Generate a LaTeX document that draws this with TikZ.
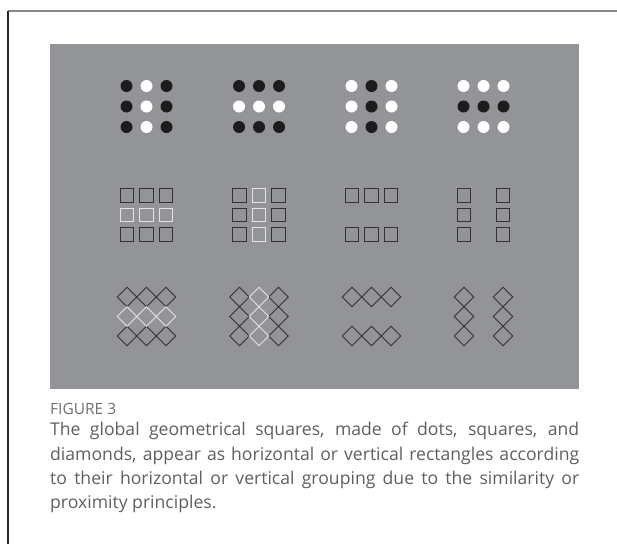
\documentclass[tikz,border=0pt]{standalone}
\usepackage{fontspec}
\setmainfont{Open Sans}

\definecolor{panel}{RGB}{147,148,152}
\definecolor{ink}{RGB}{28,28,28}
\definecolor{edgedark}{RGB}{50,50,52}
\definecolor{edgelight}{RGB}{228,228,228}
\definecolor{captext}{RGB}{95,95,95}
\definecolor{figgray}{RGB}{110,110,110}
\definecolor{framegray}{RGB}{135,135,135}

\begin{document}
\begin{tikzpicture}[x=1pt, y=-1pt,
		sq/.style={line width=1.3pt},
		rh/.style={line width=1pt, line join=miter}]
		\useasboundingbox (0,0) rectangle (617,544);
		% frame and grey panel
		\draw[framegray, line width=1.5pt] (8,11) -- (617,11);
		\draw[black!85, line width=1.2pt] (8,11) -- (8,544);
		\fill[panel] (50,44) rectangle (579,389);

		% dots: 3x3 groups, one column or row set apart by colour
		\foreach \i/\c in {-1/ink,0/white,1/ink}
			\foreach \j in {-1,0,1}
				\fill[\c] (146.5+20*\i, 106.5+20.5*\j) circle (6);
		\foreach \j/\c in {-1/ink,0/white,1/ink}
			\foreach \i in {-1,0,1}
				\fill[\c] (259+20*\i, 106.5+20.5*\j) circle (6);
		\foreach \i/\c in {-1/white,0/ink,1/white}
			\foreach \j in {-1,0,1}
				\fill[\c] (371.5+20*\i, 106.5+20.5*\j) circle (6);
		\foreach \j/\c in {-1/white,0/ink,1/white}
			\foreach \i in {-1,0,1}
				\fill[\c] (483.5+20*\i, 106.5+20.5*\j) circle (6);

		% squares
		\foreach \j/\c in {-1/edgedark,1/edgedark,0/edgelight}
			\foreach \i in {-1,0,1}
				\draw[sq, \c] (146.5+19.5*\i-6.75, 215+19.5*\j-6.75) rectangle +(13.5,13.5);
		\foreach \i/\c in {-1/edgedark,1/edgedark,0/edgelight}
			\foreach \j in {-1,0,1}
				\draw[sq, \c] (259+19.5*\i-6.75, 215+19.5*\j-6.75) rectangle +(13.5,13.5);
		\foreach \j in {-1,1}
			\foreach \i in {-1,0,1}
				\draw[sq, edgedark] (371.5+19.5*\i-6.75, 215+19.5*\j-6.75) rectangle +(13.5,13.5);
		\foreach \i in {-1,1}
			\foreach \j in {-1,0,1}
				\draw[sq, edgedark] (483.5+19.5*\i-6.75, 215+19.5*\j-6.75) rectangle +(13.5,13.5);

		% diamonds
		\foreach \j/\c in {-1/edgedark,1/edgedark,0/edgelight}
			\foreach \i in {-1,0,1}
				\draw[rh, \c, shift={(146.5+19.5*\i, 316.5+19.5*\j)}]
					(-9.75,0) -- (0,-9.75) -- (9.75,0) -- (0,9.75) -- cycle;
		\foreach \i/\c in {-1/edgedark,1/edgedark,0/edgelight}
			\foreach \j in {-1,0,1}
				\draw[rh, \c, shift={(259+19.5*\i, 316.5+19.5*\j)}]
					(-9.75,0) -- (0,-9.75) -- (9.75,0) -- (0,9.75) -- cycle;
		\foreach \j in {-1,1}
			\foreach \i in {-1,0,1}
				\draw[rh, edgedark, shift={(371.5+19.5*\i, 316.5+19.5*\j)}]
					(-9.75,0) -- (0,-9.75) -- (9.75,0) -- (0,9.75) -- cycle;
		\foreach \i in {-1,1}
			\foreach \j in {-1,0,1}
				\draw[rh, edgedark, shift={(483.5+19.5*\i, 316.5+19.5*\j)}]
					(-9.75,0) -- (0,-9.75) -- (9.75,0) -- (0,9.75) -- cycle;

		% caption
		\node[anchor=base west, inner sep=0pt, text=figgray,
			font=\fontsize{15.5}{17}\selectfont] (figlabel) at (50,414) {FIGURE 3};
		\node[anchor=north west, inner sep=0pt, text width=529pt, align=justify,
			text=captext, font=\fontsize{17.6}{24.4}\selectfont] (caption) at (50,422)
			{The global geometrical squares, made of dots, squares, and\linebreak
			diamonds, appear as horizontal or vertical rectangles according\linebreak
			to their horizontal or vertical grouping due to the similarity or\linebreak
			proximity principles.};
	\end{tikzpicture}
\end{document}
